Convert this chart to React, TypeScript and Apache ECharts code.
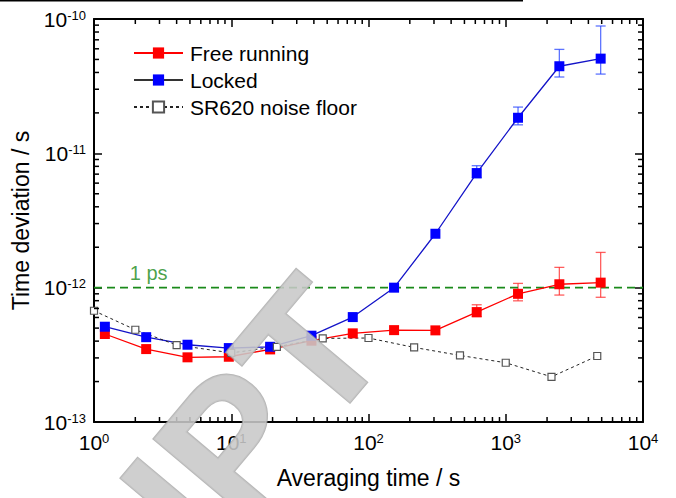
import React, { useEffect, useRef } from 'react';
import * as echarts from 'echarts';

const FONT = 'Arial, "Liberation Sans", Helvetica, sans-serif';

// Averaging times (s)
const tauMeasured = [1.2, 2.4, 4.8, 9.6, 19.2, 38.4, 76.8, 153.6, 307.2, 614.4, 1228.8, 2457.6, 4915.2];
const tauFloor = [1, 2, 4, 10, 21.5, 46.4, 100, 215, 464, 1000, 2154, 4642];

// Time deviation (s)
const freeRunning = [4.52e-13, 3.49e-13, 3.03e-13, 3.06e-13, 3.47e-13, 4.03e-13, 4.57e-13, 4.83e-13, 4.81e-13, 6.58e-13, 9.0e-13, 1.06e-12, 1.09e-12];
const freeErrLow = [null, null, null, null, null, null, null, null, null, 6.07e-13, 7.98e-13, 8.81e-13, 8.48e-13];
const freeErrHigh = [null, null, null, null, null, null, null, null, null, 7.46e-13, 1.076e-12, 1.416e-12, 1.83e-12];

const locked = [5.12e-13, 4.28e-13, 3.76e-13, 3.55e-13, 3.63e-13, 4.39e-13, 6.04e-13, 1.0e-12, 2.52e-12, 7.13e-12, 1.84e-11, 4.45e-11, 5.07e-11];
const lockedErrLow = [null, null, null, null, null, null, null, null, null, 6.55e-12, 1.63e-11, 3.7e-11, 3.89e-11];
const lockedErrHigh = [null, null, null, null, null, null, null, null, null, 8.09e-12, 2.21e-11, 5.94e-11, 8.87e-11];

const noiseFloor = [6.73e-13, 4.86e-13, 3.74e-13, 3.27e-13, 3.63e-13, 4.19e-13, 4.22e-13, 3.59e-13, 3.13e-13, 2.76e-13, 2.17e-13, 3.1e-13];

const onePs = 1e-12;
const onePsLabelTau = 2.5;
const X_MIN = 1;
const X_MAX = 1e4;
const Y_MIN = 1e-13;
const Y_MAX = 1e-10;
const xDecades = [0, 1, 2, 3];
const yDecades = [-13, -12, -11];
const minorMultipliers = [2, 3, 4, 5, 6, 7, 8, 9];

const seriesNames = ['Free running', 'Locked', 'SR620 noise floor'];

function pow10Label(v: number) {
  const e = Math.round(Math.log10(v));
  return `{b|10}{s|${e}}`;
}

export default function App() {
  const ref = useRef<HTMLDivElement>(null);

  useEffect(() => {
    const chart = echarts.init(ref.current!, null, { renderer: 'svg' });

    const xMinor: number[][] = [];
    xDecades.forEach((k) => minorMultipliers.forEach((m) => xMinor.push([m * Math.pow(10, k), Y_MIN])));
    const yMinor: number[][] = [];
    yDecades.forEach((k) => minorMultipliers.forEach((m) => yMinor.push([X_MIN, m * Math.pow(10, k)])));

    const errData = (lo: (number | null)[], hi: (number | null)[]) =>
      tauMeasured
        .map((t, i) => (lo[i] != null && hi[i] != null ? [t, lo[i], hi[i]] : null))
        .filter((d) => d !== null);

    const errSeries = (name: string, data: any[], color: string) => ({
      name,
      type: 'custom',
      z: 1,
      silent: true,
      encode: { x: 0, y: [1, 2] },
      data,
      renderItem: (params: any, api: any) => {
        const x = api.value(0);
        const p1 = api.coord([x, api.value(1)]);
        const p2 = api.coord([x, api.value(2)]);
        const w = 5;
        const style = { stroke: color, lineWidth: 1.3 };
        return {
          type: 'group',
          children: [
            { type: 'line', shape: { x1: p1[0], y1: p1[1], x2: p2[0], y2: p2[1] }, style },
            { type: 'line', shape: { x1: p1[0] - w, y1: p1[1], x2: p1[0] + w, y2: p1[1] }, style },
            { type: 'line', shape: { x1: p2[0] - w, y1: p2[1], x2: p2[0] + w, y2: p2[1] }, style },
          ],
        };
      },
    });

    const axisLabelRich = {
      b: { fontSize: 21, fontFamily: FONT, color: '#000' },
      s: { fontSize: 13, fontFamily: FONT, color: '#000', verticalAlign: 'top' },
    };

    const baseX = {
      type: 'log',
      logBase: 10,
      min: X_MIN,
      max: X_MAX,
      splitNumber: 4,
      splitLine: { show: false },
      axisLine: { show: true, onZero: false, lineStyle: { color: '#000', width: 2 } },
      axisTick: { show: true, inside: true, length: 8, lineStyle: { color: '#000', width: 1.5 } },
      minorTick: { show: false },
    };
    const baseY = {
      type: 'log',
      logBase: 10,
      min: Y_MIN,
      max: Y_MAX,
      splitNumber: 3,
      splitLine: { show: false },
      axisLine: { show: true, onZero: false, lineStyle: { color: '#000', width: 2 } },
      axisTick: { show: true, inside: true, length: 8, lineStyle: { color: '#000', width: 1.5 } },
      minorTick: { show: false },
    };

    const option: any = {
      animation: false,
      backgroundColor: '#fff',
      grid: { left: 94, right: 33, top: 19, bottom: 76, containLabel: false },
      legend: {
        show: true,
        orient: 'vertical',
        left: 128,
        top: 37.5,
        itemWidth: 49,
        itemHeight: 14,
        itemGap: 6,
        textStyle: { fontSize: 21, fontFamily: FONT, color: '#000', padding: [0, 0, 0, 2] },
        data: [
          { name: 'Free running' },
          { name: 'Locked', lineStyle: { color: '#333' } },
          { name: 'SR620 noise floor' },
        ],
      },
      xAxis: [
        {
          ...baseX,
          position: 'bottom',
          name: 'Averaging time / s',
          nameLocation: 'middle',
          nameGap: 44,
          nameTextStyle: { fontSize: 23, fontFamily: FONT, color: '#000' },
          axisLabel: { show: true, margin: 10, formatter: pow10Label, rich: axisLabelRich },
        },
        { ...baseX, position: 'top', axisLabel: { show: false } },
      ],
      yAxis: [
        {
          ...baseY,
          position: 'left',
          name: 'Time deviation / s',
          nameLocation: 'middle',
          nameGap: 55,
          nameTextStyle: { fontSize: 23, fontFamily: FONT, color: '#000' },
          axisLabel: { show: true, margin: 8, formatter: pow10Label, rich: axisLabelRich },
        },
        { ...baseY, position: 'right', axisLabel: { show: false } },
      ],
      graphic: [
        { type: 'rect', shape: { x: 0, y: 0, width: 523, height: 1.6 }, style: { fill: '#000' }, z: 100 },
        {
          type: 'text',
          x: 346,
          y: 308,
          rotation: (50 * Math.PI) / 180,
          z: 100,
          silent: true,
          style: {
            text: 'RIPT',
            font: 'bold 185px Arial, "Liberation Sans", sans-serif',
            fill: 'rgba(200,200,200,0.88)',
            stroke: 'rgba(160,160,160,0.75)',
            lineWidth: 2,
            textAlign: 'right',
            textVerticalAlign: 'middle',
          },
        },
      ],
      series: [
        {
          name: 'minorX',
          type: 'custom',
          silent: true,
          z: 3,
          data: xMinor,
          renderItem: (params: any, api: any) => {
            const x = api.value(0);
            const b = api.coord([x, Y_MIN]);
            const t = api.coord([x, Y_MAX]);
            const style = { stroke: '#000', lineWidth: 1.5 };
            return {
              type: 'group',
              children: [
                { type: 'line', shape: { x1: b[0], y1: b[1], x2: b[0], y2: b[1] - 5 }, style },
                { type: 'line', shape: { x1: t[0], y1: t[1], x2: t[0], y2: t[1] + 5 }, style },
              ],
            };
          },
        },
        {
          name: 'minorY',
          type: 'custom',
          silent: true,
          z: 3,
          data: yMinor,
          renderItem: (params: any, api: any) => {
            const y = api.value(1);
            const l = api.coord([X_MIN, y]);
            const r = api.coord([X_MAX, y]);
            const style = { stroke: '#000', lineWidth: 1.5 };
            return {
              type: 'group',
              children: [
                { type: 'line', shape: { x1: l[0], y1: l[1], x2: l[0] + 5, y2: l[1] }, style },
                { type: 'line', shape: { x1: r[0], y1: r[1], x2: r[0] - 5, y2: r[1] }, style },
              ],
            };
          },
        },
        {
          name: 'onePsLine',
          type: 'line',
          z: 1,
          silent: true,
          symbol: 'none',
          data: [
            [X_MIN, onePs],
            [X_MAX, onePs],
          ],
          lineStyle: { color: '#1a8a1a', width: 1.6, type: [8, 5] },
        },
        {
          name: 'onePsLabel',
          type: 'scatter',
          z: 1,
          silent: true,
          symbolSize: 1,
          itemStyle: { color: 'rgba(0,0,0,0)' },
          data: [[onePsLabelTau, onePs]],
          label: {
            show: true,
            position: 'top',
            distance: 4,
            formatter: '1 ps',
            color: '#1a8a1a',
            fontSize: 20,
            fontFamily: FONT,
          },
        },
        errSeries('freeErr', errData(freeErrLow, freeErrHigh), 'rgba(255,40,40,0.75)'),
        errSeries('lockedErr', errData(lockedErrLow, lockedErrHigh), 'rgba(40,70,255,0.75)'),
        {
          name: seriesNames[0],
          type: 'line',
          z: 2,
          data: tauMeasured.map((t, i) => [t, freeRunning[i]]),
          symbol: 'rect',
          symbolSize: 10,
          itemStyle: { color: '#ff0000' },
          lineStyle: { color: '#ff0000', width: 1.3 },
        },
        {
          name: seriesNames[1],
          type: 'line',
          z: 2,
          data: tauMeasured.map((t, i) => [t, locked[i]]),
          symbol: 'rect',
          symbolSize: 10,
          itemStyle: { color: '#0000ff' },
          lineStyle: { color: '#1414c8', width: 1.3 },
        },
        {
          name: seriesNames[2],
          type: 'line',
          z: 2,
          data: tauFloor.map((t, i) => [t, noiseFloor[i]]),
          symbol: 'rect',
          symbolSize: 7,
          itemStyle: { color: '#ffffff', borderColor: '#555', borderWidth: 1.2 },
          lineStyle: { color: '#222', width: 1, type: [3, 3] },
        },
      ],
    };

    chart.setOption(option);
    return () => chart.dispose();
  }, []);

  return <div ref={ref} style={{ position: 'absolute', left: 0, top: 0, width: 676, height: 498 }} />;
}
